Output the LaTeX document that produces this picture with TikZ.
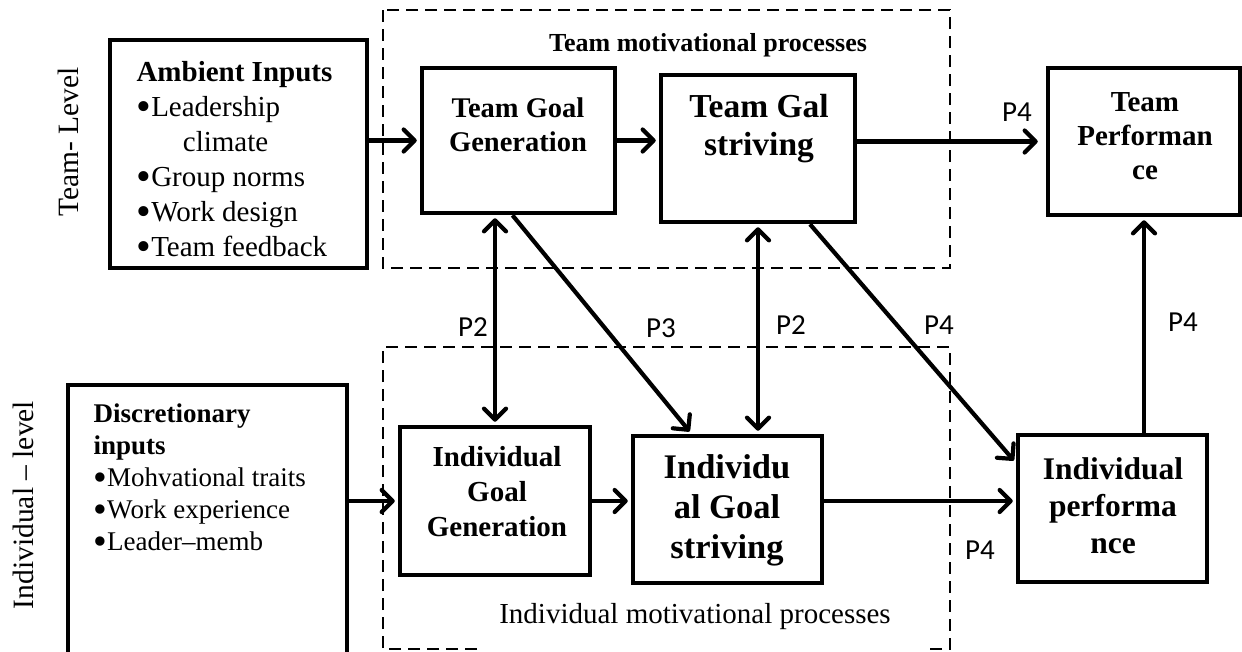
\documentclass[tikz,border=0pt]{standalone}
\usepackage{fontspec}
\setmainfont{Liberation Serif}
\newfontfamily\pfont{Carlito}
\usetikzlibrary{arrows.meta,calc,fit,positioning}
\newcommand{\bul}{\smash{\raisebox{-0.14em}{\scalebox{1.45}{•}}}}

\begin{document}
\begin{tikzpicture}[x=1pt,y=-1pt]
		\tikzstyle{boxstyle} = [draw,line width=4.5pt,inner sep=0pt]
		\tikzstyle{dashstyle} = [line width=2pt,dash pattern=on 12pt off 7pt]
		\tikzstyle{linestyle} = [line width=4.2pt,-{Straight Barb[length=11pt,width=22pt,round]}]
		\tikzstyle{bothstyle} = [line width=4.2pt,{Straight Barb[length=11pt,width=22pt,round]}-{Straight Barb[length=11pt,width=22pt,round]}]
		\tikzstyle{plabel} = [font=\pfont\fontsize{29}{32}\selectfont]
		\tikzstyle{boxtext} = [align=center,font=\bfseries\fontsize{29}{34}\selectfont]
		\useasboundingbox (0,0) rectangle (1242,651);
		\clip (0,0) rectangle (1242,651);
		\draw[dashstyle] (383,10) rectangle (950,268);
		\draw[dashstyle] (477,649)--(383,649)--(383,347)--(950,347)--(950,649)--(930,649);
		\node[rotate=90,font=\fontsize{29.5}{30}\selectfont] (teamlvl) at (68,142) {Team- Level};
		\node[rotate=90,font=\fontsize{29.5}{30}\selectfont] (indlvl) at (23,505) {Individual -- level};
		\node[font=\bfseries\fontsize{26}{30}\selectfont] (teamproc) at (708,45) {Team motivational processes};
		\node[font=\fontsize{29}{30}\selectfont] (indproc) at (695,617) {Individual motivational processes};
		\node[boxstyle,fit={(110,40) (367,268)}] (amb) {};
		\node[boxstyle,fit={(68,385) (347,700)}] (disc) {};
		\node[boxstyle,fit={(422,68) (615,213)}] (tgg) {};
		\node[boxstyle,fit={(661,75) (855,222)}] (tgs) {};
		\node[boxstyle,fit={(1048,68) (1240,215)}] (tp) {};
		\node[boxstyle,fit={(400,427) (590,575)}] (igg) {};
		\node[boxstyle,fit={(633,436) (822,583)}] (igs) {};
		\node[boxstyle,fit={(1018,435) (1207,582)}] (ip) {};
		\node[anchor=west,align=left,font=\fontsize{29}{35}\selectfont] (ambtext) at (133,159) {\textbf{Ambient Inputs}\\\bul Leadership\\\hspace{1.6em}climate\\\bul Group norms\\\bul Work design\\\bul Team feedback};
		\node[anchor=west,align=left,font=\fontsize{27}{32}\selectfont] (disctext) at (90,477) {\textbf{Discretionary}\\\textbf{inputs}\\\bul Mohvational traits\\\bul Work experience\\\bul Leader–memb};
		\node[boxtext,font=\bfseries\fontsize{28.5}{34}\selectfont] (tggtext) at (518,125) {Team Goal\\Generation};
		\node[boxtext,font=\bfseries\fontsize{33.5}{38}\selectfont] (tgstext) at (759,129) {Team Gal\\striving};
		\node[boxtext] (tptext) at (1145,136) {Team\\Performan\\ce};
		\node[boxtext,font=\bfseries\fontsize{29}{35}\selectfont] (iggtext) at (497,492) {Individual\\Goal\\Generation};
		\node[boxtext,font=\bfseries\fontsize{34.5}{40}\selectfont] (igstext) at (727,510) {Individu\\al Goal\\striving};
		\node[boxtext,font=\bfseries\fontsize{31.5}{37}\selectfont] (iptext) at (1113,506) {Individual\\performa\\nce};
		\draw[linestyle,shorten >=3pt] (amb.east |- tgg.west)--(tgg.west);
		\draw[linestyle,shorten >=3pt] (tgg.east)--(tgg.east -| tgs.west);
		\draw[linestyle,shorten >=8pt] (tgs.east |- tp.west)--(tp.west);
		\draw[linestyle,shorten >=3pt] (disc.east |- igg.west)--(igg.west);
		\draw[linestyle,shorten >=3pt] (igg.east)--(igg.east -| igs.west);
		\draw[linestyle,shorten >=3pt] (igs.east |- igg.east)--(ip.west |- igg.east);
		\draw[bothstyle,shorten >=3pt,shorten <=3pt] (tgg.south -| igg.north)--(igg.north);
		\draw[bothstyle,shorten >=3pt,shorten <=3pt] (tgs.south)--(tgs.south |- igs.north);
		\draw[linestyle,shorten >=3pt] ([xshift=-6pt]tgg.south)--([xshift=-36pt]igs.north);
		\draw[linestyle,shorten >=3pt] ([xshift=52pt]tgs.south)--([yshift=-30pt]ip.north west);
		\draw[linestyle,shorten >=3pt] (tp.south |- ip.north)--(tp.south);
		\node[plabel] (ptwoa) at (473,327) {P2};
		\node[plabel] (pthree) at (661,328) {P3};
		\node[plabel] (ptwob) at (791,325) {P2};
		\node[plabel] (pfoura) at (939,325) {P4};
		\node[plabel] (pfourb) at (1017,112) {P4};
		\node[plabel] (pfourc) at (1183,322) {P4};
		\node[plabel] (pfourd) at (980,550) {P4};
	\end{tikzpicture}
\end{document}
